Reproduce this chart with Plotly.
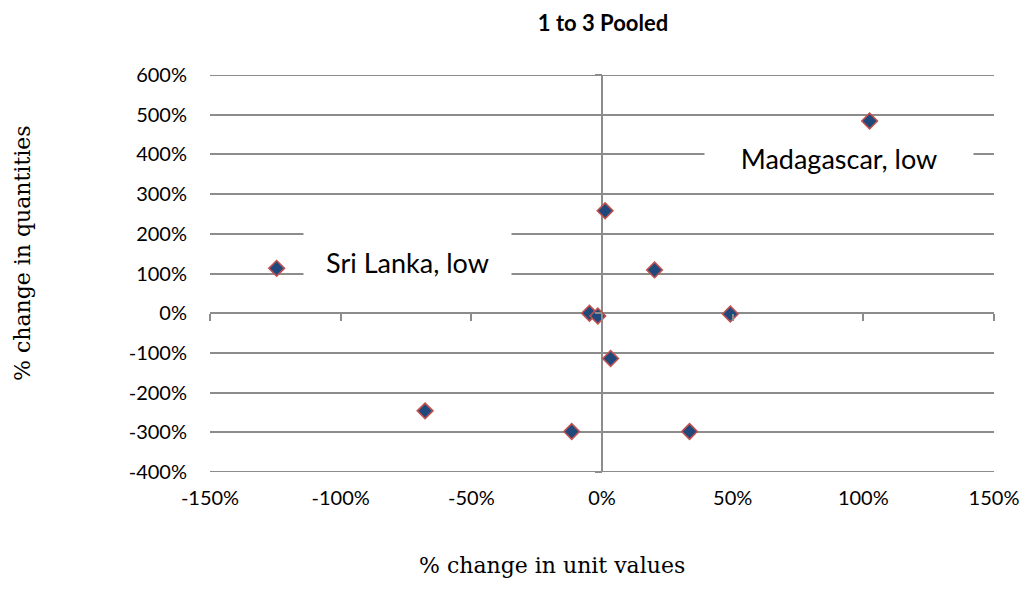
import plotly.graph_objects as go

# % change in unit values (x) and % change in quantities (y)
unit_value_change = [102.4, -124.5, 1.2, 20.1, -4.8, -1.6, 49.1, 3.3, -67.7, -11.6, 33.5]
quantity_change = [484, 113, 258, 109, 0, -7, -2, -114, -246, -298, -298]

x_ticks = [-150, -100, -50, 0, 50, 100, 150]
y_ticks = [-400, -300, -200, -100, 0, 100, 200, 300, 400, 500, 600]

labels = ["Madagascar, low", "Sri Lanka, low"]
label_x = [90.5, -74.5]
label_y = [391, 129]
label_w = [266, 205]
label_h = [52, 58]

title = "1 to 3 Pooled"
x_title = "% change in unit values"
y_title = "% change in quantities"

GRID = "#8c8c8c"
SANS = "Lato, Open Sans, sans-serif"
TICKFONT = dict(family=SANS, size=20, color="#000000")

# page offset of the figure (browser default body margin)
OFF = 8
# desired plot area on the page (pixels)
pl, pr, pt, pb = 210, 994, 75, 472

fig = go.Figure()
# helper trace for the axes crossing at zero (ticks only)
fig.add_trace(go.Scatter(x=[None], y=[None], xaxis="x2", yaxis="y2",
                         showlegend=False, hoverinfo="skip"))
fig.add_trace(go.Scatter(
    x=unit_value_change, y=quantity_change, mode="markers",
    marker=dict(symbol="diamond", size=12, color="#1F497D",
                line=dict(color="#C0504D", width=1.6)),
    showlegend=False, hoverinfo="x+y",
))

# gridlines at the range ends (plotly clips them at the edges)
for yv in (y_ticks[0], y_ticks[-1]):
    fig.add_shape(type="line", xref="paper", yref="y", x0=0, x1=1, y0=yv, y1=yv,
                  line=dict(color=GRID, width=2), layer="below")

anns = []
for t, ax, ay, w, h in zip(labels, label_x, label_y, label_w, label_h):
    anns.append(dict(x=ax, y=ay, xref="x", yref="y", text=t, showarrow=False,
                     font=dict(family=SANS, size=27, color="#000"),
                     bgcolor="#ffffff", width=w, height=h))

anns.append(dict(x=(552 - pl) / (pr - pl), y=(pb - 565) / (pb - pt), xref="paper", yref="paper",
                 text=x_title, showarrow=False, xanchor="center", yanchor="middle",
                 font=dict(family="DejaVu Serif", size=22, color="#000")))
anns.append(dict(x=(22 - pl) / (pr - pl), y=(pb - 253) / (pb - pt), xref="paper", yref="paper",
                 text=y_title, showarrow=False, textangle=-90, xanchor="center", yanchor="middle",
                 font=dict(family="DejaVu Serif", size=22, color="#000")))

W, H = 1027, 606
fig.update_layout(
    width=W, height=H, autosize=False,
    margin=dict(l=pl - OFF, r=W - (pr - OFF), t=pt - OFF, b=H - (pb - OFF), autoexpand=False),
    paper_bgcolor="#ffffff", plot_bgcolor="#ffffff",
    annotations=anns,
    title=dict(text="<b>" + title + "</b>", x=(603 - OFF) / W, xanchor="center",
               y=1 - (23 - OFF) / H, yanchor="middle",
               font=dict(family=SANS, size=22, color="#000")),
    xaxis=dict(range=[-150, 150], tickvals=x_ticks, ticktext=[f"{v}%" for v in x_ticks],
               showgrid=False, zeroline=True, zerolinecolor=GRID, zerolinewidth=2,
               showline=False, ticks="", tickfont=TICKFONT, ticklabelstandoff=12,
               automargin=False, fixedrange=True),
    yaxis=dict(range=[-400, 600], tickvals=y_ticks, ticktext=[f"{v}%" for v in y_ticks],
               showgrid=True, gridcolor=GRID, gridwidth=2, zeroline=False,
               showline=False, ticks="", tickfont=TICKFONT, ticklabelstandoff=22,
               automargin=False, fixedrange=True),
    xaxis2=dict(range=[-150, 150], tickvals=x_ticks, overlaying="x", anchor="free",
                position=0.4, side="bottom", ticks="outside", ticklen=7, tickwidth=2,
                tickcolor=GRID, showticklabels=False, showgrid=False, zeroline=False,
                showline=False, automargin=False),
    yaxis2=dict(range=[-400, 600], tickvals=y_ticks, overlaying="y", anchor="free",
                position=0.5, side="left", ticks="outside", ticklen=7, tickwidth=2,
                tickcolor=GRID, showticklabels=False, showgrid=False, zeroline=False,
                showline=False, automargin=False),
)

fig.write_html("out.html")
